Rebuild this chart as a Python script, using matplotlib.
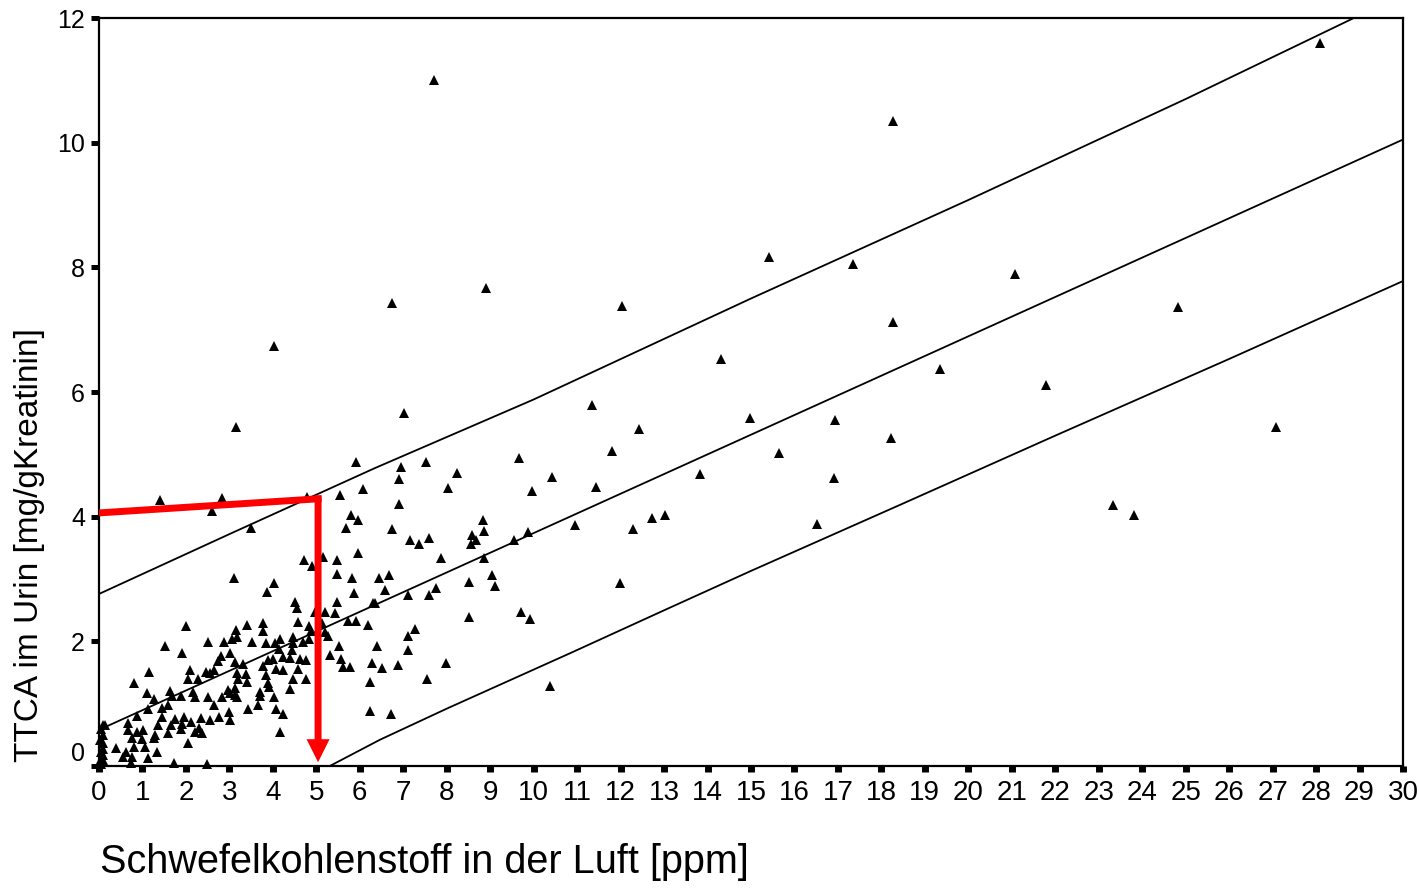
import matplotlib
matplotlib.use("Agg")
import matplotlib.pyplot as plt

plt.rcParams['font.family'] = ['Liberation Sans', 'DejaVu Sans']

# scatter points (CS2 in air [ppm], TTCA in urine [mg/g creatinine])
pts = [
    # sparse / outliers
    (7.7, 11.0), (28.1, 11.6), (18.27, 10.35), (15.41, 8.17), (17.35, 8.06), (8.9, 7.67),
    (6.74, 7.43), (12.03, 7.38), (21.07, 7.9), (24.82, 7.37), (18.27, 7.13), (4.03, 6.74),
    (14.31, 6.53), (19.35, 6.37), (21.78, 6.12), (3.15, 5.44), (7.02, 5.67), (11.34, 5.79),
    (12.42, 5.4), (14.98, 5.59), (16.93, 5.55), (18.22, 5.26), (27.08, 5.44), (11.8, 5.06),
    (15.64, 5.02), (11.43, 4.47), (13.83, 4.68), (10.42, 4.64), (16.91, 4.62), (23.33, 4.19),
    (23.81, 4.03), (16.52, 3.89), (10.95, 3.86), (12.28, 3.8), (12.72, 3.98), (13.02, 4.03),
    (11.99, 2.93),
    # 6..10 ppm
    (9.66, 4.94), (9.96, 4.41), (6.95, 4.8), (7.52, 4.88), (8.24, 4.7), (6.9, 4.61),
    (8.03, 4.46), (6.9, 4.21), (8.83, 3.95), (8.86, 3.77), (8.58, 3.71), (8.67, 3.63),
    (8.56, 3.56), (6.74, 3.8), (7.15, 3.63), (7.36, 3.56), (7.59, 3.66), (7.87, 3.34),
    (8.86, 3.34), (9.87, 3.76), (9.55, 3.63), (6.44, 3.02), (6.67, 3.07), (6.58, 2.83),
    (7.11, 2.74), (7.59, 2.74), (7.75, 2.86), (8.51, 2.95), (9.04, 3.07), (9.11, 2.89),
    (6.35, 2.62), (8.51, 2.39), (9.71, 2.47), (9.91, 2.36), (7.27, 2.2), (7.11, 2.09),
    (6.4, 1.93), (7.11, 1.86), (6.28, 1.65), (6.51, 1.57), (6.88, 1.62), (7.98, 1.65),
    (7.55, 1.4), (6.23, 1.35), (6.72, 0.83), (6.23, 0.88), (10.37, 1.28), (6.19, 2.27),
    # 1..6 ppm upper part
    (1.4, 4.27), (2.83, 4.3), (2.6, 4.09), (4.78, 4.32), (3.5, 3.82), (5.91, 4.88),
    (5.54, 4.35), (6.07, 4.45), (5.8, 4.03), (5.96, 3.95), (5.68, 3.82), (5.96, 3.42),
    (3.11, 3.02), (4.03, 2.94), (3.86, 2.79), (4.72, 3.31), (4.9, 3.21), (5.15, 3.36),
    (5.47, 3.31), (5.47, 3.08), (5.82, 3.02), (5.87, 2.78), (4.51, 2.63), (4.55, 2.54),
    (5.47, 2.63), (4.97, 2.47), (5.2, 2.47), (5.43, 2.46), (6.3, 2.62),
    # 3..6 ppm dense
    (3.4, 2.26), (3.77, 2.3), (4.58, 2.31), (4.83, 2.25), (5.13, 2.3), (3.15, 2.18),
    (3.77, 2.17), (3.17, 2.07), (4.88, 2.17), (5.2, 2.15), (5.73, 2.33), (5.91, 2.33),
    (3.52, 1.99), (3.84, 1.98), (4.05, 1.97), (4.16, 2.04), (4.46, 2.07), (4.46, 1.97),
    (4.69, 1.99), (4.83, 2.04), (5.27, 2.09), (5.52, 1.93), (4.14, 1.88), (4.44, 1.86),
    (3.01, 1.81), (3.89, 1.7), (4.0, 1.72), (4.23, 1.75), (4.39, 1.73), (4.62, 1.72),
    (4.76, 1.7), (5.31, 1.78), (5.57, 1.72), (3.13, 1.67), (3.31, 1.64), (3.77, 1.61),
    (4.07, 1.56), (4.23, 1.54), (4.58, 1.56), (5.61, 1.59), (5.77, 1.59), (3.17, 1.49),
    (3.38, 1.48), (3.84, 1.46), (4.46, 1.4), (4.76, 1.4), (3.2, 1.4), (3.4, 1.35),
    (3.89, 1.33), (3.13, 1.25), (3.91, 1.27), (4.39, 1.24), (3.01, 1.17), (3.13, 1.14),
    (3.7, 1.19), (3.7, 1.12), (3.17, 1.11), (4.03, 1.11), (3.43, 0.91), (3.66, 0.98),
    (4.07, 0.91), (4.23, 0.83), (3.01, 0.74), (4.16, 0.55),
    # 0..3 ppm dense
    (2.0, 2.25), (1.52, 1.93), (1.91, 1.81), (2.51, 1.99), (2.88, 1.99), (3.06, 2.04),
    (1.15, 1.51), (0.81, 1.33), (2.09, 1.54), (2.46, 1.51), (2.65, 1.54), (2.81, 1.77),
    (2.74, 1.69), (2.05, 1.4), (2.28, 1.4), (2.55, 1.49), (1.1, 1.17), (1.26, 1.08),
    (1.63, 1.2), (1.68, 1.12), (1.89, 1.12), (2.16, 1.19), (2.21, 1.11), (2.51, 1.11),
    (2.65, 0.98), (2.83, 1.11), (2.97, 1.22), (1.59, 0.98), (1.45, 0.93), (1.13, 0.91),
    (0.87, 0.8), (1.45, 0.79), (1.75, 0.75), (1.95, 0.79), (2.12, 0.71), (2.35, 0.77),
    (2.55, 0.74), (2.76, 0.79), (2.99, 0.87), (0.67, 0.69), (0.14, 0.66), (1.36, 0.66),
    (1.66, 0.66), (1.91, 0.67), (2.3, 0.61), (0.67, 0.58), (0.87, 0.55), (1.01, 0.58),
    (1.29, 0.5), (1.59, 0.53), (1.89, 0.59), (2.21, 0.55), (2.37, 0.53), (0.76, 0.45),
    (0.99, 0.43), (1.26, 0.45), (0.81, 0.3), (1.06, 0.3), (1.33, 0.22), (2.05, 0.37),
    (0.39, 0.29), (0.62, 0.22), (0.55, 0.14), (0.76, 0.14), (0.74, 0.05), (1.13, 0.13),
    (1.73, 0.05), (2.48, 0.03),
    # near 0 ppm
    (0.1, 0.66), (0.1, 0.5), (0.1, 0.37), (0.1, 0.27), (0.1, 0.18), (0.1, 0.1),
    (0.05, 0.03), (0.05, 0.6), (0.02, 0.42), (0.05, 0.22), (0.02, 0.08),
]
pts_x = [p[0] for p in pts]
pts_y = [p[1] for p in pts]

# regression line and prediction band
reg_x = [0, 30]
reg_y = [0.58, 10.05]
upper_x = [0, 3, 6.35, 10, 15, 20, 25, 28.87]
upper_y = [2.76, 3.72, 4.78, 5.88, 7.5, 9.08, 10.7, 12.0]
lower_x = [5.31, 6.46, 8, 10.84, 13.07, 15, 18.43, 22, 26, 30]
lower_y = [0, 0.42, 0.92, 1.81, 2.52, 3.13, 4.19, 5.3, 6.53, 7.78]

# red reading arrow: 4 mg/g -> 5 ppm
arrow_x = [0, 5.04]
arrow_y = [4.06, 4.29]
arrow_end = 0.06

fig = plt.figure(figsize=(14.19, 8.89), dpi=100)
ax = fig.add_axes([99/1419, 1 - 766/889, 1304/1419, 748/889])

ax.plot(reg_x, reg_y, color='black', lw=1.3)
ax.plot(upper_x, upper_y, color='black', lw=1.3)
ax.plot(lower_x, lower_y, color='black', lw=1.3)
ax.plot(pts_x, pts_y, '^', color='black', ms=7.5, mew=0, clip_on=False, zorder=3)

ax.plot([arrow_x[0], arrow_x[1] + 0.08], arrow_y, color='red', lw=5,
        solid_capstyle='butt', zorder=4)
ax.arrow(arrow_x[1], arrow_y[1] + 0.05, 0, arrow_end - arrow_y[1] - 0.05,
         width=0.16, head_width=0.53, head_length=0.37,
         length_includes_head=True, color='red', lw=0, zorder=4)

ax.set_xlim(0, 30)
ax.set_ylim(0, 12)
ax.set_xticks(range(0, 31))
ax.set_yticks(range(0, 13, 2))
ax.tick_params(axis='x', direction='out', length=4, width=5, pad=6,
               labelsize=20, color='black')
ax.tick_params(axis='y', direction='out', length=6, width=3.6, pad=4,
               labelsize=18, color='black')
for lab in ax.get_xticklabels():
    lab.set_family(['Liberation Sans Narrow', 'Liberation Sans'])
ax.get_yticklabels()[0].set_verticalalignment('bottom')
for s in ax.spines.values():
    s.set_linewidth(1.6)

fig.text(30/1419, 1 - 545/889, 'TTCA im Urin [mg/gKreatinin]',
         rotation=90, ha='center', va='center', fontsize=24)
fig.text(100/1419, 1 - 862/889, 'Schwefelkohlenstoff in der Luft [ppm]',
         ha='left', va='center', fontsize=28.5)

fig.savefig('out.png', dpi=100)
